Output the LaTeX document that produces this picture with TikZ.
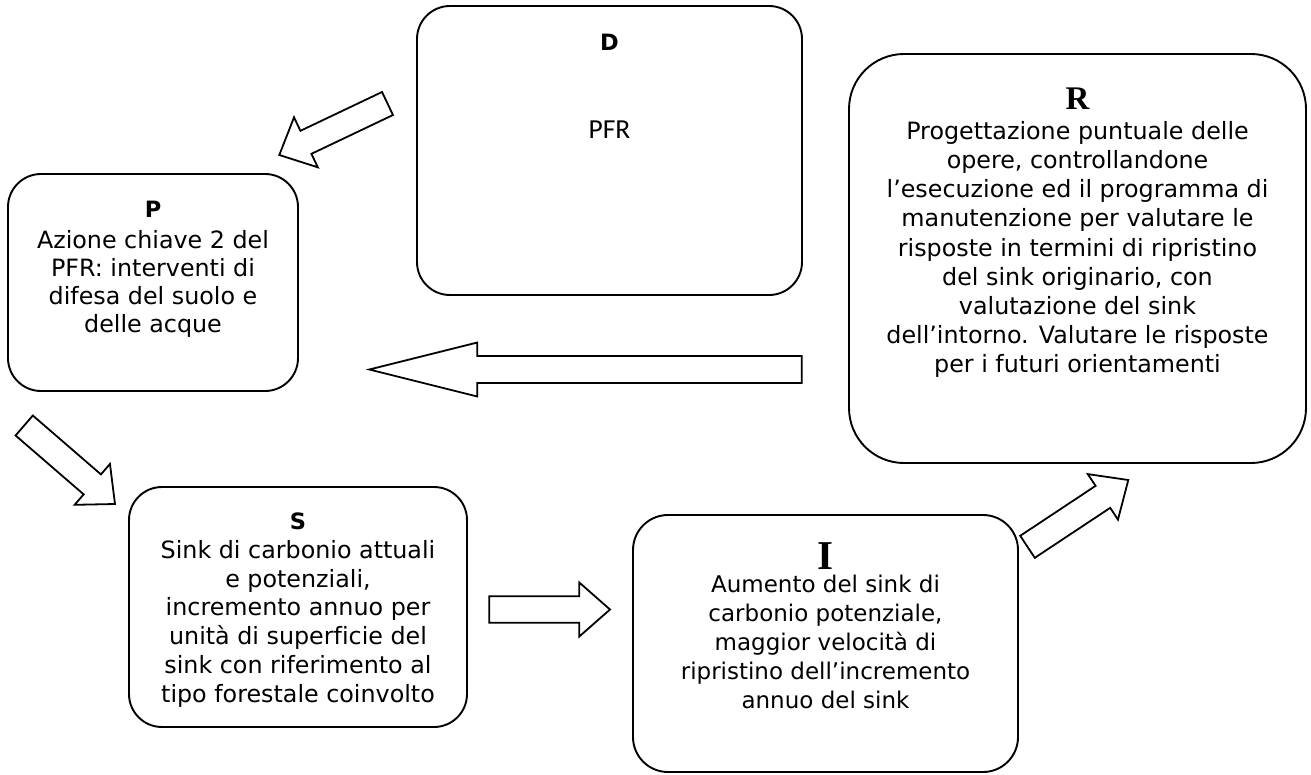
\documentclass[tikz,border=0pt]{standalone}
\usepackage{fontspec}
\setmainfont{DejaVu Sans}[Ligatures={NoCommon}]
\newfontfamily\pfrfont{Carlito}
\newfontfamily\serifhead{Liberation Serif}
\usetikzlibrary{calc}

% hollow block arrow: #1 tail, #2 tip, #3 shaft half-width, #4 head half-width, #5 head length
\newcommand\flowarrow[5]{%
  \coordinate (#1-neck) at ($(#2)!#5!(#1)$);
  \draw[flow] ($(#1)!#3!90:(#2)$)
    -- ($(#1-neck)!#3!-90:(#1)$)
    -- ($(#1-neck)!#4!-90:(#1)$)
    -- (#2)
    -- ($(#1-neck)!#4!90:(#1)$)
    -- ($(#1-neck)!#3!90:(#1)$)
    -- ($(#1)!#3!-90:(#2)$)
    -- cycle;
}

\tikzset{
  box/.style={draw, line width=1.9pt, rounded corners=33pt, inner sep=0pt},
  flow/.style={draw, line width=1.8pt, fill=white, line join=miter},
  head/.style={inner sep=0pt, font=\fontsize{22.5}{26}\selectfont\bfseries},
  serifletter/.style={inner sep=0pt, font=\serifhead\bfseries\fontsize{#1}{#1}\selectfont},
  body/.style={inner sep=0pt, align=center, anchor=north, font=\fontsize{23.8}{#1}\selectfont},
}

\begin{document}
\begin{tikzpicture}[x=1pt, y=-1pt]
  \useasboundingbox (0,0) rectangle (1311,774);

  % boxes
  \node[box, minimum width=385, minimum height=289] (D) at (609.5,150.5) {};
  \node[box, minimum width=290, minimum height=217] (P) at (153,282.5) {};
  \node[box, minimum width=457, minimum height=409, rounded corners=55pt] (R) at (1077.5,258.5) {};
  \node[box, minimum width=338, minimum height=240] (S) at (298,607) {};
  \node[box, minimum width=385, minimum height=257, rounded corners=35pt] (I) at (825.5,643.5) {};

  % D
  \node[head] (D-head) at (609.5,42.5) {D};
  \node[inner sep=0pt, font=\pfrfont\fontsize{27.5}{30}\selectfont] (D-body) at (609.5,130) {PFR};

  % P
  \node[head] (P-head) at (153,209.5) {P};
  \node[body=28] (P-body) at (153,230)
    {Azione chiave 2 del\\PFR: interventi di\\difesa del suolo e\\delle acque};

  % R
  \node[serifletter=33] (R-head) at (1077.5,99) {R};
  \node[body=29.2] (R-body) at (1077.5,121)
    {Progettazione puntuale delle\\opere, controllandone\\l’esecuzione ed il programma di\\manutenzione per valutare le\\risposte in termini di ripristino\\del sink originario, con\\valutazione del sink\\dell’intorno. Valutare le risposte\\per i futuri orientamenti};

  % S
  \node[head] (S-head) at (298,521.5) {S};
  \node[body=28.8] (S-body) at (298,540)
    {Sink di carbonio attuali\\e potenziali,\\incremento annuo per\\unità di superficie del\\sink con riferimento al\\tipo forestale coinvolto};

  % I
  \node[serifletter=41] (I-head) at (825.5,556) {I};
  \node[inner sep=0pt, align=center, anchor=north, font=\fontsize{23}{29}\selectfont] (I-body) at (825.5,574.5)
    {Aumento del sink di\\carbonio potenziale,\\maggior velocità di\\ripristino dell’incremento\\annuo del sink};

  % arrow end points
  \coordinate (dp-tail) at (387.5,103.5);  \coordinate (dp-tip) at (279.3,155);
  \coordinate (rp-tail) at (801.7,369.5);  \coordinate (rp-tip) at (369.3,369.5);
  \coordinate (ps-tail) at (24.2,425.5);   \coordinate (ps-tip) at (115,504);
  \coordinate (si-tail) at (489.3,609.5);  \coordinate (si-tip) at (610,609.5);
  \coordinate (ir-tail) at (1027.5,546.8); \coordinate (ir-tip) at (1128.3,480);

  \flowarrow{dp-tail}{dp-tip}{12.75pt}{27.7pt}{29.5pt}
  \flowarrow{rp-tail}{rp-tip}{13.5pt}{27pt}{108pt}
  \flowarrow{ps-tail}{ps-tip}{13.2pt}{27pt}{30pt}
  \flowarrow{si-tail}{si-tip}{13.3pt}{27pt}{30.7pt}
  \flowarrow{ir-tail}{ir-tip}{13.2pt}{27.3pt}{30.5pt}
\end{tikzpicture}
\end{document}
